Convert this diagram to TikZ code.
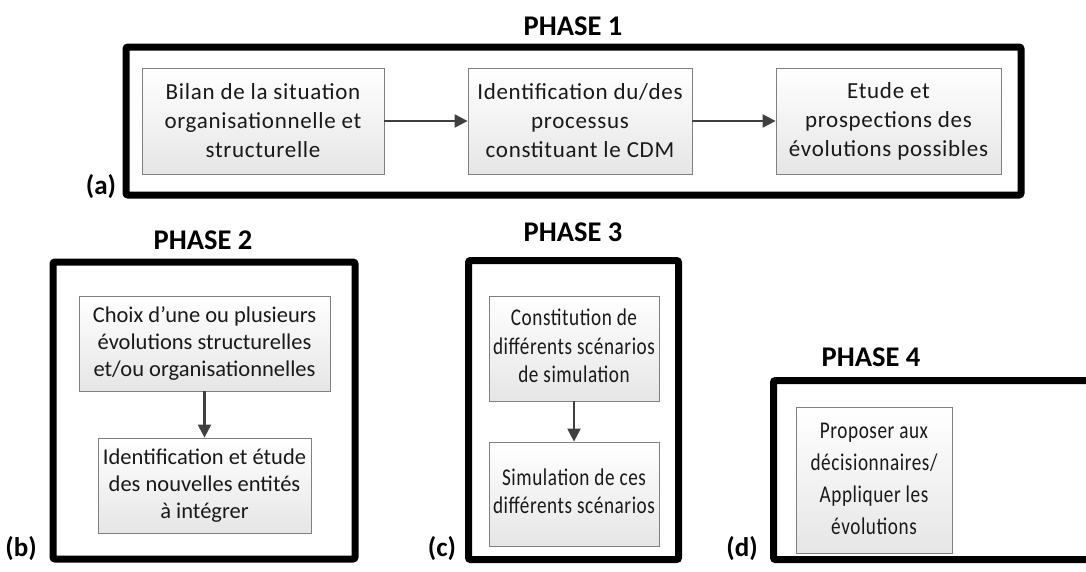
\documentclass[tikz,border=0pt]{standalone}
\usepackage{fontspec}
\setmainfont{Carlito}
\usetikzlibrary{arrows.meta,shadings}
\newcommand\condtext[2]{\scalebox{0.8}[1]{\fontsize{24}{#1}\selectfont\begin{tabular}{@{}c@{}}#2\end{tabular}}}
\begin{document}
\begin{tikzpicture}[x=1pt,y=-1pt,
  stepbox/.style={draw=black!50,line width=0.8pt,top color=white,bottom color=black!10,
    align=center,inner sep=0pt,font=\fontsize{23}{29}\selectfont\addfontfeatures{LetterSpace=3},text=black!90},
  frame/.style={draw=black,line width=7pt,rounded corners=2pt,inner sep=0pt},
  title/.style={font=\fontsize{28.5}{30}\selectfont\bfseries},
  tag/.style={font=\fontsize{27}{30}\selectfont\bfseries},
  flow/.style={draw=black!75,line width=2.2pt,-{Triangle[length=13pt,width=13pt]}}]
\useasboundingbox (0,0) rectangle (1086,571);
\begin{scope}
\clip (0,0) rectangle (1086,571);
% frames
\node[frame,minimum width=895pt,minimum height=148pt] (f1) at (573.5,121) {};
\node[frame,minimum width=302pt,minimum height=297pt] (f2) at (204,410.5) {};
\node[frame,minimum width=210pt,minimum height=299pt] (f3) at (573.5,410) {};
\node[frame,minimum width=320pt,minimum height=179pt] (f4) at (933.5,470) {};
\end{scope}
% titles
\node[title] (t1) at (573,26) {PHASE 1};
\node[title] (t2) at (203,240) {PHASE 2};
\node[title] (t3) at (573,232) {PHASE 3};
\node[title] (t4) at (871,357) {PHASE 4};
% tags
\node[tag] (la) at (101,187) {(a)};
\node[tag] (lb) at (21,549) {(b)};
\node[tag] (lc) at (442,549) {(c)};
\node[tag] (ld) at (742,549) {(d)};
% boxes
\node[stepbox,minimum width=242pt,minimum height=106pt] (b1) at (263,121)
  {Bilan de la situation\\organisationnelle et\\structurelle};
\node[stepbox,minimum width=224pt,minimum height=106pt] (b2) at (580,121)
  {Identification du/des\\processus\\constituant le CDM};
\node[stepbox,minimum width=225pt,minimum height=106pt] (b3) at (888.5,121)
  {Etude et\\prospections des\\évolutions possibles};
\node[stepbox,minimum width=251pt,minimum height=95pt,font=\fontsize{22.5}{27}\selectfont] (b4) at (204.5,343.5)
  {Choix d’une ou plusieurs\\évolutions structurelles\\et/ou organisationnelles};
\node[stepbox,minimum width=213pt,minimum height=95pt,font=\fontsize{22.5}{27}\selectfont] (b5) at (204.5,485.5)
  {Identification et étude\\des nouvelles entités\\à intégrer};
\node[stepbox,minimum width=170pt,minimum height=105pt] (b6) at (574,348.5)
  {\condtext{28.5}{Constitution de\\différents scénarios\\de simulation}};
\node[stepbox,minimum width=170pt,minimum height=104pt] (b7) at (574,494)
  {\condtext{28.5}{Simulation de ces\\différents scénarios}};
\node[stepbox,minimum width=156pt,minimum height=146pt] (b8) at (874,480)
  {\condtext{32}{Proposer aux\\décisionnaires/\\Appliquer les\\évolutions}};
% arrows
\draw[flow] (b1) -- (b2);
\draw[flow] (b2) -- (b3);
\draw[flow] (b4) -- (b5);
\draw[flow] (b6) -- (b7);
\end{tikzpicture}
\end{document}
